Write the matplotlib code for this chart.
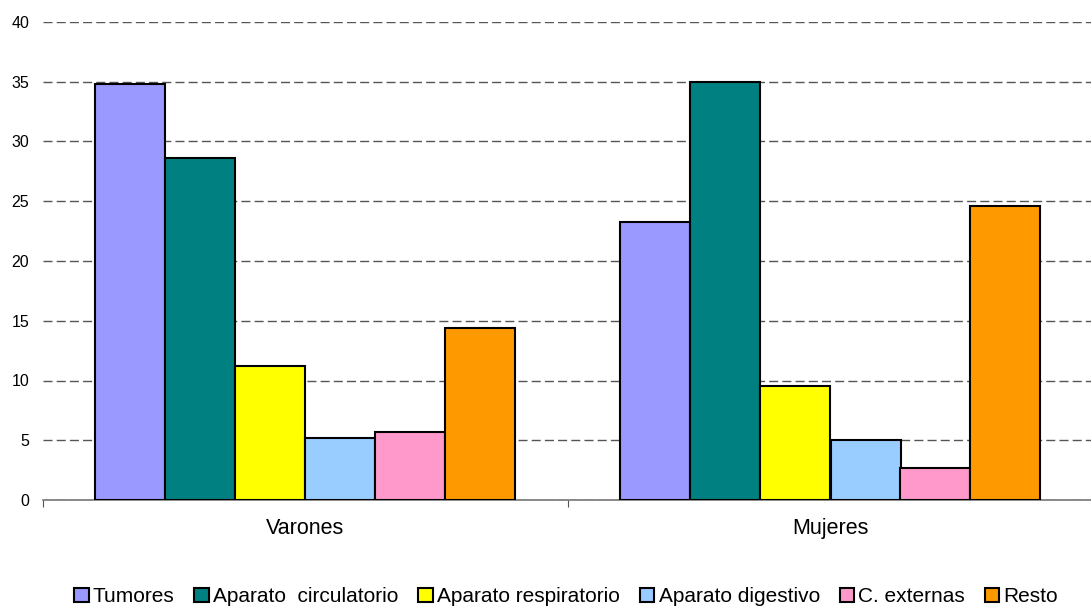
import numpy as np
import matplotlib.pyplot as plt

plt.rcParams['font.family'] = ['Liberation Sans', 'DejaVu Sans']

# datos
grupos = ['Varones', 'Mujeres']
causas = ['Tumores', 'Aparato  circulatorio', 'Aparato respiratorio',
          'Aparato digestivo', 'C. externas', 'Resto']
varones = [34.8, 28.6, 11.2, 5.2, 5.7, 14.4]
mujeres = [23.3, 35.0, 9.5, 5.0, 2.7, 24.6]
colores = ['#9999FF', '#008080', '#FFFF00', '#99CCFF', '#FF99CC', '#FF9900']

valores = np.array([varones, mujeres])

fig = plt.figure(figsize=(10.91, 6.07), dpi=100)
ax = fig.add_axes([43 / 1091, 107 / 607, 1050 / 1091, 478 / 607])

x = np.arange(len(grupos)) + 0.5
ancho = 0.8 / len(causas)
for i, causa in enumerate(causas):
    pos = x - 0.4 + ancho * (i + 0.5)
    ax.bar(pos, valores[:, i], width=ancho, color=colores[i],
           edgecolor='black', linewidth=1.5, label=causa, zorder=3)

ax.set_xlim(0, 2)
ax.set_ylim(0, 40)
ax.set_yticks(range(0, 41, 5))
ax.yaxis.grid(True, linestyle=(0, (6.5, 3)), color='#555555', linewidth=1, zorder=0)
ax.tick_params(axis='y', length=0, labelsize=11.5, pad=10)

# marcas entre categorias
ax.set_xticks([0, 1, 2])
ax.set_xticklabels([])
ax.set_xticks(x, minor=True)
ax.set_xticklabels(grupos, minor=True, fontsize=15.5)
ax.tick_params(axis='x', which='major', length=5, direction='out', color='#555555')
ax.tick_params(axis='x', which='minor', length=0, pad=13)

for s in ['top', 'right', 'left']:
    ax.spines[s].set_visible(False)
ax.spines['bottom'].set_color('#777777')
ax.spines['bottom'].set_linewidth(1.2)

fig.legend(loc='lower center', bbox_to_anchor=(0.519, -0.03), ncol=6, frameon=False,
           fontsize=15, handlelength=0.7, handleheight=0.7, handletextpad=0.2,
           columnspacing=0.95)

fig.savefig('out.png', dpi=100)
